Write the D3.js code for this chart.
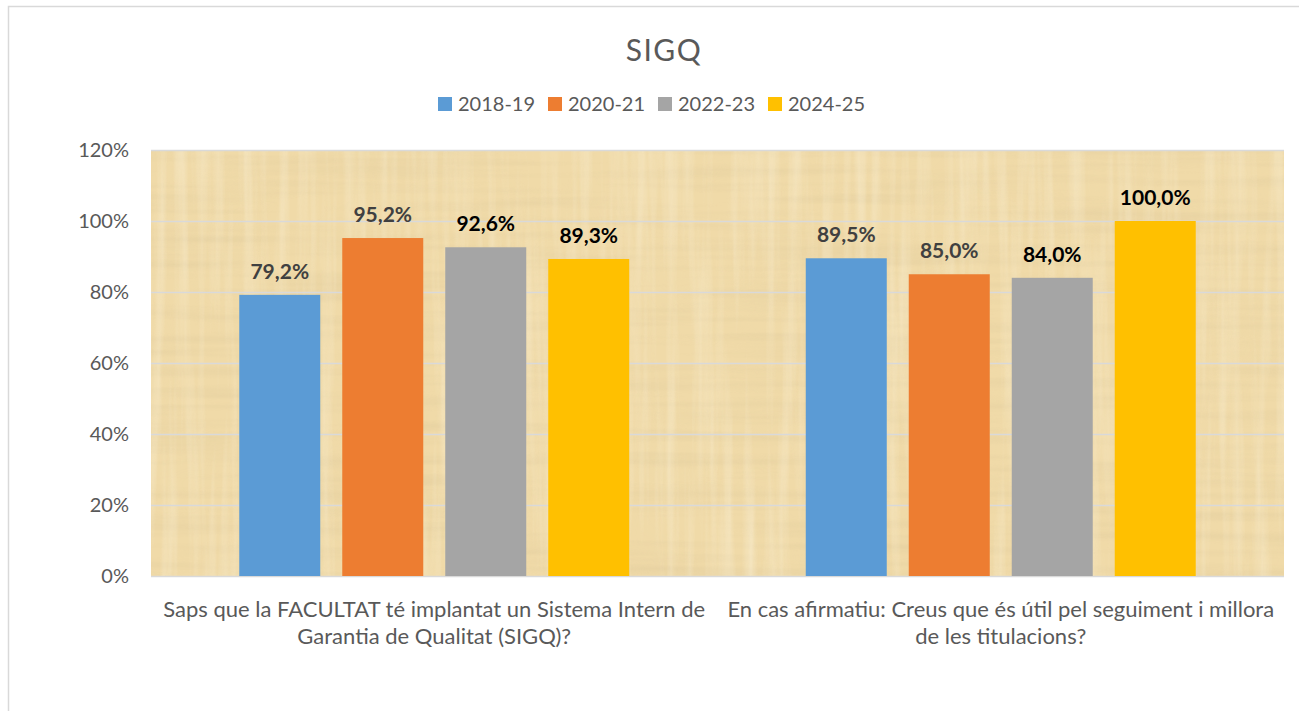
<!DOCTYPE html>
<html>
<head>
<meta charset="utf-8">
<script src="https://cdn.jsdelivr.net/npm/d3@7"></script>
<style>
  html, body { margin: 0; padding: 0; background: #fff; }
  svg { display: block; font-family: Lato, "Open Sans", sans-serif; }
</style>
</head>
<body>
<svg id="chart" width="1299" height="711"></svg>
<script>
const title = "SIGQ";
const categories = [
  ["Saps que la FACULTAT té implantat un Sistema Intern de", "Garantia de Qualitat (SIGQ)?"],
  ["En cas afirmatiu: Creus que és útil pel seguiment i millora", "de les titulacions?"]
];
const seriesNames = ["2018-19", "2020-21", "2022-23", "2024-25"];
const seriesColors = ["#5B9BD5", "#ED7D31", "#A5A5A5", "#FFC000"];
const labelColors = ["#404040", "#404040", "#000000", "#000000"];
const values2018 = [79.2, 89.5];
const values2020 = [95.2, 85.0];
const values2022 = [92.6, 84.0];
const values2024 = [89.3, 100.0];
const seriesValues = [values2018, values2020, values2022, values2024];
const yTicks = [0, 20, 40, 60, 80, 100, 120];

const svg = d3.select("#chart");
const W = 1299, H = 711;

// chart border
svg.append("path")
  .attr("d", `M8.5,${H + 2} L8.5,6.5 L${W + 2},6.5`)
  .attr("fill", "none").attr("stroke", "#D9D9D9").attr("stroke-width", 1.5);

const plot = { left: 151, right: 1284, top: 150, bottom: 576 };

const x0 = d3.scaleBand().domain(d3.range(categories.length))
  .range([plot.left, plot.right]).paddingInner(0).paddingOuter(0);
const x1 = d3.scaleBand().domain(d3.range(seriesNames.length))
  .range([0, x0.bandwidth()]).paddingInner(0.2136).paddingOuter(0.857);
const y = d3.scaleLinear().domain([0, 120]).range([plot.bottom, plot.top]);

// papyrus texture
const defs = svg.append("defs");
const f1 = defs.append("filter").attr("id", "fibH").attr("x", 0).attr("y", 0).attr("width", 1).attr("height", 1);
f1.append("feTurbulence").attr("type", "fractalNoise").attr("baseFrequency", "0.004 0.09").attr("numOctaves", 3).attr("seed", 3);
f1.append("feColorMatrix").attr("type", "matrix")
  .attr("values", "0 0 0 0 0.62  0 0 0 0 0.50  0 0 0 0 0.28  1.1 0 0 0 -0.45");
const f2 = defs.append("filter").attr("id", "fibV").attr("x", 0).attr("y", 0).attr("width", 1).attr("height", 1);
f2.append("feTurbulence").attr("type", "fractalNoise").attr("baseFrequency", "0.09 0.004").attr("numOctaves", 3).attr("seed", 7);
f2.append("feColorMatrix").attr("type", "matrix")
  .attr("values", "0 0 0 0 0.99  0 0 0 0 0.95  0 0 0 0 0.82  1.1 0 0 0 -0.45");
const f3 = defs.append("filter").attr("id", "blot").attr("x", 0).attr("y", 0).attr("width", 1).attr("height", 1);
f3.append("feTurbulence").attr("type", "fractalNoise").attr("baseFrequency", "0.012").attr("numOctaves", 2).attr("seed", 11);
f3.append("feColorMatrix").attr("type", "matrix")
  .attr("values", "0 0 0 0 0.85  0 0 0 0 0.70  0 0 0 0 0.40  0.9 0 0 0 -0.35");

const pw = plot.right - plot.left, ph = plot.bottom - plot.top;
const bg = svg.append("g");
bg.append("rect").attr("x", plot.left).attr("y", plot.top).attr("width", pw).attr("height", ph).attr("fill", "#F0DAA8");
bg.append("rect").attr("x", plot.left).attr("y", plot.top).attr("width", pw).attr("height", ph).attr("filter", "url(#blot)").attr("opacity", 0.5);
bg.append("rect").attr("x", plot.left).attr("y", plot.top).attr("width", pw).attr("height", ph).attr("filter", "url(#fibH)").attr("opacity", 0.4);
bg.append("rect").attr("x", plot.left).attr("y", plot.top).attr("width", pw).attr("height", ph).attr("filter", "url(#fibV)").attr("opacity", 0.6);

// gridlines
const grid = svg.append("g").attr("transform", `translate(${plot.left},0)`)
  .call(d3.axisLeft(y).tickValues(yTicks).tickSize(-pw).tickFormat(""));
grid.select(".domain").remove();
grid.selectAll(".tick line").attr("stroke", "#D9D9D9").attr("stroke-width", 1.5);

// y labels
const yAxis = svg.append("g").attr("transform", `translate(${plot.left},0)`)
  .call(d3.axisLeft(y).tickValues(yTicks).tickSize(0).tickPadding(22).tickFormat(d => d + "%"));
yAxis.select(".domain").remove();
yAxis.selectAll("text").attr("fill", "#595959").attr("font-size", 20)
  .attr("font-family", "Lato, 'Open Sans', sans-serif");

// bars
const groups = svg.append("g").selectAll("g").data(categories).join("g")
  .attr("transform", (d, i) => `translate(${x0(i)},0)`);
groups.each(function (c, ci) {
  const g = d3.select(this);
  seriesValues.forEach((vals, si) => {
    const v = vals[ci];
    g.append("rect")
      .attr("x", x1(si)).attr("width", x1.bandwidth())
      .attr("y", y(v)).attr("height", y(0) - y(v))
      .attr("fill", seriesColors[si]);
    g.append("text")
      .attr("x", x1(si) + x1.bandwidth() / 2).attr("y", y(v) - 16)
      .attr("text-anchor", "middle").attr("font-weight", 700).attr("font-size", 21)
      .attr("fill", labelColors[si])
      .text(v.toFixed(1).replace(".", ",") + "%");
  });
});

// category labels
categories.forEach((lines, ci) => {
  const t = svg.append("text").attr("text-anchor", "middle").attr("fill", "#595959").attr("font-size", 22);
  lines.forEach((ln, li) => {
    t.append("tspan").attr("x", x0(ci) + x0.bandwidth() / 2).attr("y", 617 + li * 27).text(ln);
  });
});

// title
svg.append("text").attr("x", 664).attr("y", 61).attr("text-anchor", "middle")
  .attr("font-size", 30).attr("letter-spacing", 1.5).attr("fill", "#595959").text(title);

// legend
const legend = svg.append("g").attr("transform", "translate(438,97)");
const li = legend.selectAll("g").data(seriesNames).join("g")
  .attr("transform", (d, i) => `translate(${i * 110},0)`);
li.append("rect").attr("width", 14).attr("height", 14).attr("fill", (d, i) => seriesColors[i]);
li.append("text").attr("x", 20).attr("y", 14).attr("font-size", 20).attr("fill", "#595959").text(d => d);
</script>
</body>
</html>
